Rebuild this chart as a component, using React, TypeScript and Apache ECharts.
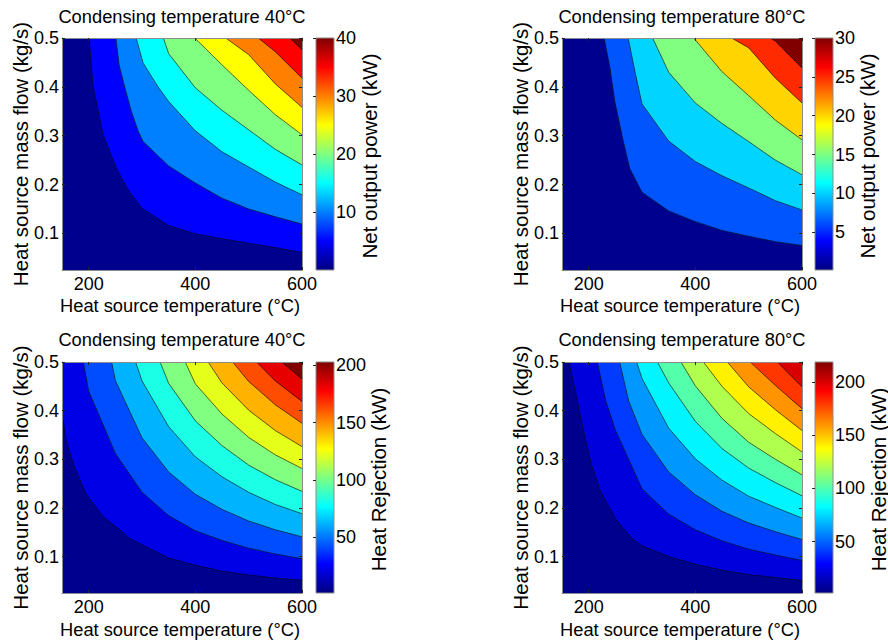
import React, { useEffect, useRef } from "react";
import * as echarts from "echarts";

// ---------- axes ----------
const X_MIN = 150;
const X_MAX = 600;
const Y_MIN = 0.025;
const Y_MAX = 0.5;
const xTickValues = [200, 400, 600];
const yTickValues = [0.1, 0.2, 0.3, 0.4, 0.5];

// ---------- panel 1 : net output power, condensing 40°C ----------
const netPower40Colors = ["#00008F", "#0000FF", "#0080FF", "#00FFFF", "#80FF80", "#FFFF00", "#FF8000", "#FF0000", "#800000"];
const netPower40Range = [0.1, 40];
const netPower40Ticks = [10, 20, 30, 40];
const netPower40Lines = [
  [[201, 0.5], [208, 0.404], [227, 0.302], [252, 0.233], [274, 0.189], [300, 0.151], [350, 0.116], [400, 0.099], [450, 0.089], [500, 0.08], [550, 0.071], [600, 0.061]],
  [[251, 0.5], [257, 0.445], [268, 0.398], [280, 0.35], [293, 0.309], [302, 0.288], [350, 0.238], [400, 0.203], [450, 0.172], [500, 0.15], [550, 0.134], [600, 0.119]],
  [[289, 0.5], [302, 0.449], [330, 0.4], [350, 0.37], [400, 0.31], [450, 0.267], [500, 0.236], [550, 0.205], [600, 0.179]],
  [[340, 0.5], [350, 0.468], [400, 0.398], [450, 0.352], [500, 0.312], [550, 0.272], [600, 0.24]],
  [[399, 0.5], [450, 0.445], [500, 0.393], [550, 0.343], [600, 0.302]],
  [[457, 0.5], [500, 0.466], [550, 0.406], [600, 0.358]],
  [[518, 0.5], [550, 0.472], [600, 0.418]],
  [[577, 0.5], [600, 0.476]],
];

// ---------- panel 2 : net output power, condensing 80°C ----------
const netPower80Colors = ["#00008F", "#0055FF", "#00D4FF", "#80FF80", "#FFD400", "#FF2A00", "#800000"];
const netPower80Range = [0.14, 30];
const netPower80Ticks = [5, 10, 15, 20, 25, 30];
const netPower80Lines = [
  [[229, 0.5], [240, 0.438], [249, 0.37], [265, 0.288], [277, 0.233], [300, 0.184], [350, 0.146], [400, 0.124], [450, 0.106], [500, 0.094], [550, 0.083], [600, 0.075]],
  [[274, 0.5], [287, 0.43], [300, 0.365], [350, 0.289], [400, 0.247], [450, 0.218], [500, 0.193], [550, 0.167], [600, 0.148]],
  [[320, 0.5], [350, 0.43], [400, 0.367], [450, 0.325], [500, 0.288], [550, 0.25], [600, 0.22]],
  [[397, 0.5], [450, 0.431], [500, 0.382], [550, 0.332], [600, 0.2915]],
  [[468, 0.5], [500, 0.48], [550, 0.418], [600, 0.367]],
  [[540, 0.5], [550, 0.494], [600, 0.4385]],
];

// ---------- panel 3 : heat rejection, condensing 40°C ----------
const heatRej40Colors = ["#00008F", "#0000E6", "#004DFF", "#00B3FF", "#1AFFE6", "#80FF80", "#E6FF1A", "#FFB300", "#FF4D00", "#E60000", "#800000"];
const heatRej40Range = [1.2, 203];
const heatRej40Ticks = [50, 100, 150, 200];
const heatRej40Lines = [
  [[150, 0.395], [158, 0.337], [174, 0.282], [196, 0.227], [227, 0.182], [250, 0.162], [277, 0.137], [300, 0.124], [350, 0.097], [400, 0.082], [450, 0.07], [500, 0.062], [550, 0.056], [600, 0.051]],
  [[190, 0.5], [200, 0.44], [250, 0.312], [300, 0.232], [350, 0.184], [400, 0.153], [450, 0.133], [500, 0.117], [550, 0.105], [600, 0.0954]],
  [[243, 0.5], [250, 0.462], [300, 0.344], [350, 0.274], [400, 0.228], [450, 0.197], [500, 0.173], [550, 0.155], [600, 0.1405]],
  [[288, 0.5], [300, 0.461], [350, 0.367], [400, 0.305], [450, 0.264], [500, 0.232], [550, 0.207], [600, 0.188]],
  [[334, 0.5], [350, 0.456], [400, 0.379], [450, 0.328], [500, 0.288], [550, 0.258], [600, 0.234]],
  [[381, 0.5], [400, 0.455], [450, 0.393], [500, 0.345], [550, 0.309], [600, 0.281]],
  [[424, 0.5], [450, 0.457], [500, 0.401], [550, 0.359], [600, 0.326]],
  [[470, 0.5], [500, 0.46], [550, 0.412], [600, 0.374]],
  [[515, 0.5], [550, 0.461], [600, 0.419]],
  [[562, 0.5], [600, 0.465]],
];

// ---------- panel 4 : heat rejection, condensing 80°C ----------
const heatRej80Colors = ["#00008F", "#0000DD", "#003BFF", "#0098FF", "#00F5FF", "#54FFAB", "#B0FF4F", "#FFF100", "#FF9300", "#FF3600", "#D80000"];
const heatRej80Range = [1.6, 219];
const heatRej80Ticks = [50, 100, 150, 200];
const heatRej80Lines = [
  [[163, 0.5], [175, 0.44], [190, 0.36], [205, 0.29], [222, 0.234], [250, 0.178], [280, 0.138], [300, 0.122], [350, 0.1], [400, 0.084], [450, 0.072], [500, 0.063], [550, 0.057], [600, 0.051]],
  [[216, 0.5], [232, 0.42], [250, 0.36], [300, 0.239], [350, 0.187], [400, 0.155], [450, 0.132], [500, 0.115], [550, 0.103], [600, 0.092]],
  [[258, 0.5], [275, 0.42], [300, 0.351], [350, 0.274], [400, 0.227], [450, 0.193], [500, 0.169], [550, 0.151], [600, 0.135]],
  [[290, 0.5], [300, 0.466], [350, 0.364], [400, 0.301], [450, 0.257], [500, 0.224], [550, 0.201], [600, 0.179]],
  [[329, 0.5], [350, 0.457], [400, 0.378], [450, 0.322], [500, 0.282], [550, 0.252], [600, 0.225]],
  [[373, 0.5], [400, 0.451], [450, 0.384], [500, 0.335], [550, 0.3], [600, 0.268]],
  [[415, 0.5], [450, 0.45], [500, 0.394], [550, 0.353], [600, 0.315]],
  [[460, 0.5], [500, 0.449], [550, 0.402], [600, 0.359]],
  [[503, 0.5], [550, 0.452], [600, 0.404]],
  [[554, 0.5], [600, 0.449]],
];

// ---------- texts ----------
const titles = ["Condensing temperature 40°C", "Condensing temperature 80°C", "Condensing temperature 40°C", "Condensing temperature 80°C"];
const xName = "Heat source temperature (°C)";
const yName = "Heat source mass flow (kg/s)";
const cbNames = ["Net output power (kW)", "Net output power (kW)", "Heat Rejection (kW)", "Heat Rejection (kW)"];

const FONT = '"Liberation Sans", Arial, Helvetica, sans-serif';
const JET = [
  { offset: 0, color: "#000080" },
  { offset: 0.125, color: "#0000FF" },
  { offset: 0.375, color: "#00FFFF" },
  { offset: 0.625, color: "#FFFF00" },
  { offset: 0.875, color: "#FF0000" },
  { offset: 1, color: "#800000" },
];

const panels = [
  { left: 62, top: 38, h: 232, cbLeft: 316, lines: netPower40Lines, colors: netPower40Colors, range: netPower40Range, ticks: netPower40Ticks, titleY: 16, xNameY: 305, yNameX: 20, cbNameX: 369 },
  { left: 562, top: 38, h: 232, cbLeft: 815, lines: netPower80Lines, colors: netPower80Colors, range: netPower80Range, ticks: netPower80Ticks, titleY: 16, xNameY: 305, yNameX: 520, cbNameX: 867 },
  { left: 62, top: 362, h: 231, cbLeft: 316, lines: heatRej40Lines, colors: heatRej40Colors, range: heatRej40Range, ticks: heatRej40Ticks, titleY: 339, xNameY: 629, yNameX: 20, cbNameX: 378 },
  { left: 562, top: 362, h: 231, cbLeft: 815, lines: heatRej80Lines, colors: heatRej80Colors, range: heatRej80Range, ticks: heatRej80Ticks, titleY: 339, xNameY: 629, yNameX: 520, cbNameX: 878 },
];

const PW = 240;
const CBW = 18;
const BORDER = "#8c8c8c";
const TICK = "#262626";

function buildOption() {
  const grid: any[] = [];
  const xAxis: any[] = [];
  const yAxis: any[] = [];
  const series: any[] = [];
  const graphic: any[] = [];

  const labelStyle = { color: "#000", fontSize: 18, fontFamily: FONT };

  panels.forEach((p, i) => {
    const gi = grid.length;
    grid.push({ left: p.left, top: p.top, width: PW, height: p.h, show: true, backgroundColor: p.colors[0], borderWidth: 0 });
    const xBottom = xAxis.length;
    xAxis.push({
      gridIndex: gi, type: "value", min: X_MIN, max: X_MAX, position: "bottom", z: 10,
      axisLine: { show: true, onZero: false, lineStyle: { color: BORDER, width: 1 } },
      axisTick: { show: true, inside: true, length: 3, customValues: xTickValues, lineStyle: { color: TICK } },
      axisLabel: { show: true, customValues: xTickValues, margin: 5, ...labelStyle },
      splitLine: { show: false },
    });
    xAxis.push({
      gridIndex: gi, type: "value", min: X_MIN, max: X_MAX, position: "top", z: 10,
      axisLine: { show: true, onZero: false, lineStyle: { color: BORDER, width: 1 } },
      axisTick: { show: true, inside: true, length: 3, customValues: xTickValues, lineStyle: { color: TICK } },
      axisLabel: { show: false },
      splitLine: { show: false },
    });
    const yLeft = yAxis.length;
    yAxis.push({
      gridIndex: gi, type: "value", min: Y_MIN, max: Y_MAX, position: "left", z: 10,
      axisLine: { show: true, onZero: false, lineStyle: { color: BORDER, width: 1 } },
      axisTick: { show: true, inside: true, length: 3, customValues: yTickValues, lineStyle: { color: TICK } },
      axisLabel: { show: true, customValues: yTickValues, margin: 3, formatter: (v: number) => v.toFixed(1), ...labelStyle },
      splitLine: { show: false },
    });
    yAxis.push({
      gridIndex: gi, type: "value", min: Y_MIN, max: Y_MAX, position: "right", z: 10,
      axisLine: { show: true, onZero: false, lineStyle: { color: BORDER, width: 1 } },
      axisTick: { show: true, inside: true, length: 3, customValues: yTickValues, lineStyle: { color: TICK } },
      axisLabel: { show: false },
      splitLine: { show: false },
    });

    const lines = p.lines;
    const colors = p.colors;
    series.push({
      type: "custom",
      xAxisIndex: xBottom,
      yAxisIndex: yLeft,
      clip: true,
      silent: true,
      z: 2,
      data: lines.map((_, k) => [k]),
      renderItem: (params: any, api: any) => {
        const k = params.dataIndex;
        const pts = lines[k];
        const closing = [[X_MAX, Y_MAX], [pts[0][0] <= X_MIN ? X_MIN : pts[0][0], Y_MAX]];
        const poly = pts.concat(closing).map((q) => api.coord(q));
        const path = pts.map((q) => api.coord(q));
        return {
          type: "group",
          children: [
            { type: "polygon", shape: { points: poly }, style: { fill: colors[k + 1], stroke: colors[k + 1], lineWidth: 0.3 } },
            { type: "polyline", shape: { points: path }, style: { stroke: "#000", lineWidth: 0.6, fill: null } },
          ],
        };
      },
    });

    // colorbar
    const cg = grid.length;
    grid.push({ left: p.cbLeft, top: p.top, width: CBW, height: p.h, show: false });
    const cx = xAxis.length;
    xAxis.push({ gridIndex: cg, type: "value", min: 0, max: 1, show: false });
    const cy = yAxis.length;
    yAxis.push({
      gridIndex: cg, type: "value", min: p.range[0], max: p.range[1], position: "right", z: 10,
      axisLine: { show: false },
      axisTick: { show: true, inside: true, length: 3, customValues: p.ticks, lineStyle: { color: TICK } },
      axisLabel: { show: true, customValues: p.ticks, margin: 2, ...labelStyle },
      splitLine: { show: false },
    });
    series.push({
      type: "custom",
      xAxisIndex: cx,
      yAxisIndex: cy,
      silent: true,
      z: 2,
      data: [[0.5, p.range[0]]],
      renderItem: (params: any) => {
        const cs = params.coordSys;
        return {
          type: "rect",
          shape: { x: cs.x, y: cs.y, width: cs.width, height: cs.height },
          style: { fill: new echarts.graphic.LinearGradient(0, 1, 0, 0, JET), stroke: BORDER, lineWidth: 1 },
        };
      },
    });

    const cx0 = p.left + PW / 2;
    const cy0 = p.top + p.h / 2;
    graphic.push({
      type: "text", x: cx0, y: p.titleY, silent: true,
      style: { text: titles[i], fontSize: 18.3, fontFamily: FONT, fill: "#000", align: "center", verticalAlign: "middle" },
    });
    graphic.push({
      type: "text", x: cx0 - 2, y: p.xNameY, silent: true,
      style: { text: xName, fontSize: 18.3, fontFamily: FONT, fill: "#000", align: "center", verticalAlign: "middle" },
    });
    graphic.push({
      type: "text", x: p.yNameX, y: cy0, rotation: Math.PI / 2, silent: true,
      style: { text: yName, fontSize: 20.5, fontFamily: FONT, fill: "#000", align: "center", verticalAlign: "middle" },
    });
    graphic.push({
      type: "text", x: p.cbNameX, y: cy0 + 2, rotation: Math.PI / 2, silent: true,
      style: { text: cbNames[i], fontSize: 20.5, fontFamily: FONT, fill: "#000", align: "center", verticalAlign: "middle" },
    });
  });

  return {
    animation: false,
    backgroundColor: "#ffffff",
    grid,
    xAxis,
    yAxis,
    series,
    graphic,
  };
}

export default function App() {
  const ref = useRef<HTMLDivElement>(null);
  useEffect(() => {
    if (!ref.current) return;
    const chart = echarts.init(ref.current, undefined, { renderer: "svg" });
    chart.setOption(buildOption() as any);
    return () => chart.dispose();
  }, []);
  return <div ref={ref} style={{ position: "fixed", left: 0, top: 0, width: 888, height: 644 }} />;
}
